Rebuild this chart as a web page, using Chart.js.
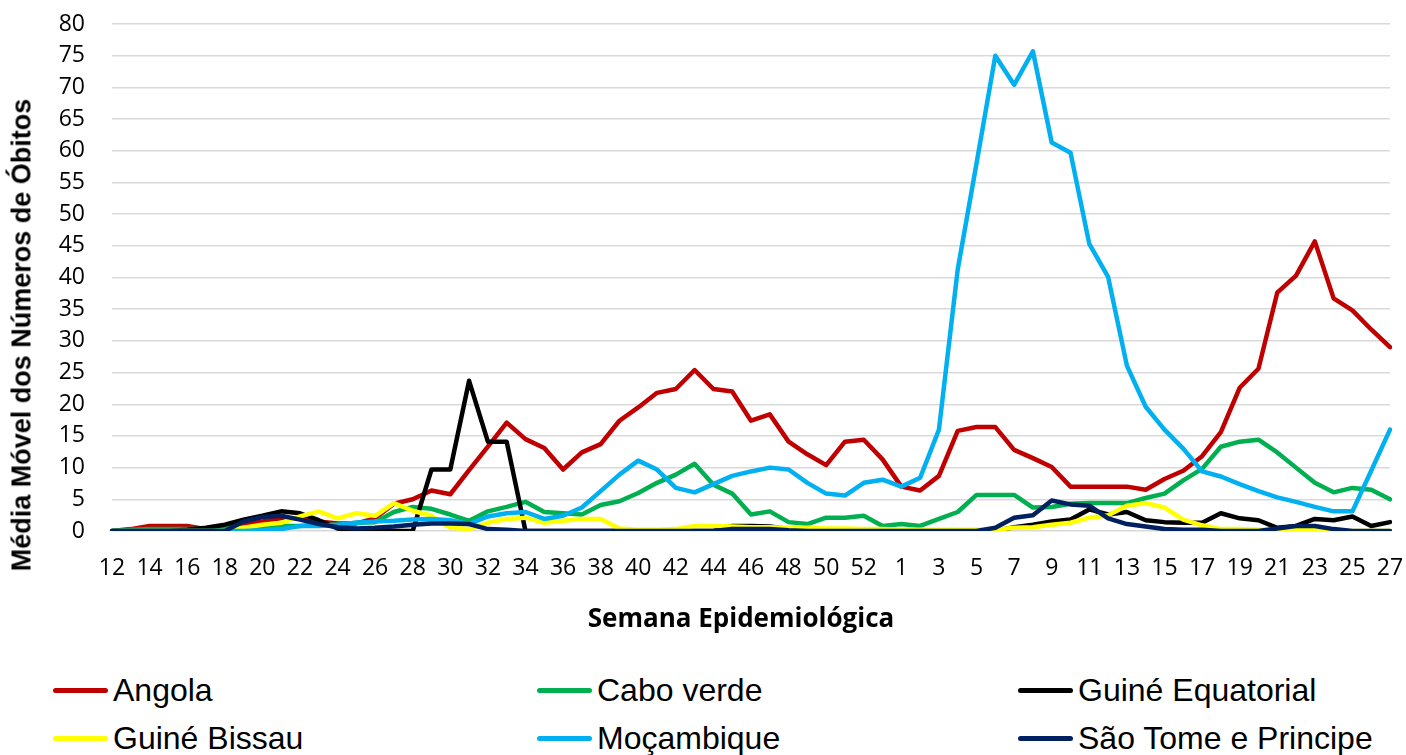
<!DOCTYPE html>
<html>
<head>
  <meta charset="UTF-8">
  <title>Média Móvel dos Números de Óbitos</title>
  <script src="https://cdn.jsdelivr.net/npm/chart.js@4"></script>
  <style>
    body { margin: 0; background: #ffffff; width: 1406px; height: 755px; overflow: hidden; position: relative; }
    .chart-box { position: absolute; left: 0; top: 0; width: 1406px; height: 645px; }
    .y-title { position: absolute; left: 22px; top: 335px; transform: translate(-50%, -50%) rotate(-90deg); white-space: nowrap;
               font-family: "Liberation Sans", Arial, sans-serif; font-size: 27px; font-weight: bold; color: #000; }
    .x-title { position: absolute; left: 741px; top: 617px; transform: translate(-50%, -50%); white-space: nowrap;
               font-family: "Open Sans", sans-serif; font-size: 26px; font-weight: bold; color: #000; }
    .legend { position: absolute; left: 0; top: 664px; width: 1406px; font-family: "Liberation Sans", Arial, sans-serif; font-size: 32px; color: #000; }
    .legend-item { position: absolute; display: flex; align-items: center; height: 40px; white-space: nowrap; }
    .legend-item .swatch { width: 55px; height: 5px; border-radius: 3px; margin-right: 5px; }
  </style>
</head>
<body>
  <div class="chart-box"><canvas id="chart"></canvas></div>
  <div class="y-title">Média Móvel dos Números de Óbitos</div>
  <div class="x-title">Semana Epidemiológica</div>
  <div class="legend" id="legend"></div>

  <script>
    // Semanas epidemiológicas (12..53 de um ano, 1..27 do seguinte)
    const weeks = [
      '12','13','14','15','16','17','18','19','20','21','22','23','24','25','26','27','28','29','30','31',
      '32','33','34','35','36','37','38','39','40','41','42','43','44','45','46','47','48','49','50','51',
      '52','53',
      '1','2','3','4','5','6','7','8','9','10','11','12','13','14','15','16','17','18','19','20',
      '21','22','23','24','25','26','27'
    ];

    const seriesNames = ['Angola', 'Cabo verde', 'Guiné Equatorial', 'Guiné Bissau', 'Moçambique', 'São Tome e Principe'];
    const seriesColors = ['#C00000', '#00B050', '#000000', '#FFFF00', '#00B0F0', '#002060'];

    const angola = [
      0, 0.3, 0.8, 0.8, 0.8, 0.3, 0.5, 1, 1.5, 2, 2, 1.5, 1.2, 1.2, 2, 4.3, 5, 6.4, 5.8, 9.6,
      13.3, 17.1, 14.5, 13.1, 9.7, 12.4, 13.7, 17.4, 19.5, 21.8, 22.4, 25.4, 22.4, 22, 17.4, 18.4, 14.1, 12.1, 10.4, 14.1,
      14.4, 11.3,
      7, 6.4, 8.7, 15.8, 16.4, 16.4, 12.8, 11.5, 10.1, 7, 7, 7, 7, 6.5, 8.2, 9.5, 11.8, 15.6, 22.6, 25.6,
      37.6, 40.3, 45.7, 36.7, 34.8, 31.8, 29
    ];
    const caboVerde = [
      0, 0.2, 0.3, 0.3, 0.3, 0.3, 0.4, 0.5, 0.6, 0.8, 0.8, 1, 1, 1.3, 1.4, 3, 3.8, 3.5, 2.6, 1.6,
      3.1, 3.8, 4.6, 3, 2.8, 2.6, 4.1, 4.7, 6, 7.6, 8.9, 10.6, 7.3, 5.9, 2.6, 3.1, 1.4, 1.1, 2.1, 2.1,
      2.4, 0.8,
      1.1, 0.8, 1.9, 3, 5.7, 5.7, 5.7, 3.7, 3.8, 4.3, 4.4, 4.4, 4.4, 5.2, 5.9, 8, 9.8, 13.3, 14.1, 14.4,
      12.4, 10, 7.6, 6.1, 6.8, 6.5, 5
    ];
    const guineEquatorial = [
      0, 0, 0, 0, 0.2, 0.5, 1, 1.8, 2.4, 3.1, 2.8, 1.7, 0.4, 0, 0, 0, 0, 9.7, 9.7, 23.7,
      14.1, 14.1, 0, 0, 0, 0, 0, 0, 0, 0, 0, 0, 0, 0.8, 0.8, 0.7, 0.3, 0, 0, 0,
      0, 0,
      0, 0, 0, 0, 0, 0, 0.6, 1, 1.5, 1.8, 3.4, 2.6, 3, 1.7, 1.4, 1.3, 1.3, 2.8, 2, 1.7,
      0.5, 0.8, 1.9, 1.7, 2.3, 0.8, 1.4
    ];
    const guineBissau = [
      0, 0, 0, 0, 0, 0, 0, 0.5, 1, 1.3, 2.3, 3.1, 2, 2.8, 2.4, 4.4, 3.2, 2.4, 0.5, 0.3,
      1.3, 1.9, 2.1, 1.3, 1.6, 1.9, 1.9, 0.4, 0.2, 0.2, 0.3, 0.8, 0.8, 0.7, 0.6, 0.6, 0.5, 0.5, 0.4, 0.4,
      0.3, 0.3,
      0.2, 0.2, 0.2, 0.2, 0.2, 0.2, 0.5, 0.6, 1, 1.3, 2.1, 2.5, 4, 4.4, 3.7, 1.8, 0.9, 0.3, 0.3, 0.2,
      0.2, 0.2, 0.2, 0, 0, 0, 0
    ];
    const mocambique = [
      0, 0, 0, 0, 0, 0, 0, 0, 0.1, 0.3, 0.8, 0.8, 1, 1.3, 1.5, 1.6, 1.8, 1.9, 1.7, 1.1,
      2.3, 2.8, 3, 1.9, 2.4, 3.7, 6.3, 8.9, 11.1, 9.7, 6.8, 6.1, 7.4, 8.7, 9.4, 10, 9.7, 7.6, 5.9, 5.6,
      7.6, 8.1,
      7, 8.4, 16, 41.3, 58, 75, 70.4, 75.7, 61.3, 59.7, 45.3, 40.1, 26.1, 19.6, 16, 13, 9.4, 8.6, 7.4, 6.3,
      5.3, 4.6, 3.8, 3.1, 3.1, 9.5, 16
    ];
    const saoTome = [
      0, 0, 0, 0, 0, 0, 0, 1.5, 2.2, 2.4, 1.8, 1.1, 0.6, 0.4, 0.5, 0.7, 1, 1.2, 1.2, 1.1,
      0.3, 0.2, 0, 0, 0, 0, 0, 0, 0, 0, 0, 0, 0, 0.3, 0.3, 0.3, 0.1, 0, 0, 0,
      0, 0,
      0, 0, 0, 0, 0, 0.5, 2.1, 2.5, 4.8, 4.2, 4, 2, 1.1, 0.7, 0.3, 0.2, 0.2, 0, 0, 0,
      0.4, 0.8, 0.8, 0.3, 0, 0, 0
    ];

    const seriesValues = [angola, caboVerde, guineEquatorial, guineBissau, mocambique, saoTome];

    // Build datasets; later series are drawn on top (like the original)
    const datasets = seriesNames.map((name, i) => ({
      label: name,
      data: seriesValues[i],
      borderColor: seriesColors[i],
      backgroundColor: seriesColors[i],
      borderWidth: 4.5,
      pointRadius: 0,
      tension: 0,
      borderJoinStyle: 'round',
      borderCapStyle: 'round',
      order: seriesNames.length - i
    }));

    // Invisible tick marks are used to push labels away from the plot
    // (tick padding would also grow the chart's outer padding)
    const ctx = document.getElementById('chart').getContext('2d');
    const chart = new Chart(ctx, {
      type: 'line',
      data: { labels: weeks, datasets: datasets },
      options: {
        responsive: true,
        maintainAspectRatio: false,
        animation: false,
        layout: { padding: { top: 24, right: 16, bottom: 0, left: 0 } },
        plugins: {
          legend: { display: false },
          tooltip: { enabled: false }
        },
        scales: {
          x: {
            offset: false,
            grid: { display: true, drawOnChartArea: false, drawTicks: true, tickLength: 24, color: 'transparent', tickColor: 'transparent' },
            border: { display: false },
            ticks: {
              autoSkip: false,
              maxRotation: 0,
              minRotation: 0,
              padding: 0,
              color: '#000',
              font: { family: '"Open Sans", sans-serif', size: 23 },
              callback: function(value, index) {
                return index % 2 === 0 ? this.getLabelForValue(value) : '';
              }
            },
            afterFit: function(scale) { scale.height = 114; }
          },
          y: {
            min: 0,
            max: 80,
            grid: { color: '#D9D9D9', lineWidth: 1.5, drawTicks: true, tickLength: 27, tickColor: 'transparent' },
            border: { display: false },
            ticks: {
              stepSize: 5,
              padding: 0,
              color: '#000',
              font: { family: '"Open Sans", sans-serif', size: 23 }
            },
            afterFit: function(scale) { scale.width = 112; }
          }
        }
      }
    });

    // HTML legend in a 3-column grid, built from the chart datasets
    const legendEl = document.getElementById('legend');
    const colX = [53, 537, 1018];
    const rowY = [6, 54];
    chart.data.datasets.forEach((ds, i) => {
      const item = document.createElement('div');
      item.className = 'legend-item';
      item.style.left = colX[i % 3] + 'px';
      item.style.top = rowY[Math.floor(i / 3)] + 'px';
      item.innerHTML = '<span class="swatch" style="background:' + ds.borderColor + '"></span><span>' + ds.label + '</span>';
      legendEl.appendChild(item);
    });
  </script>
</body>
</html>
